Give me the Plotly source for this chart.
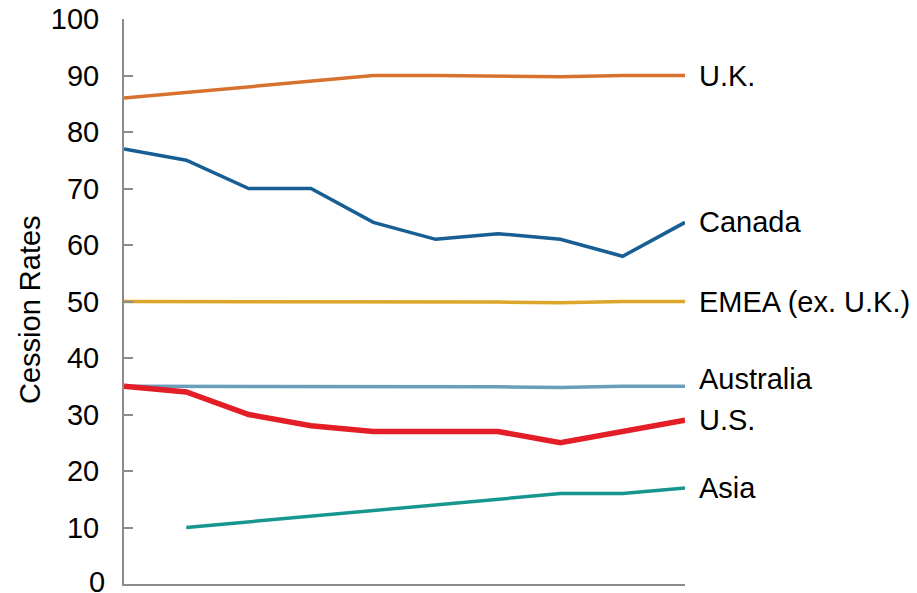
import plotly.graph_objects as go

# Cession rates by region over ten periods
periods = list(range(10))
series_names = ["U.K.", "Canada", "EMEA (ex. U.K.)", "Australia", "U.S.", "Asia"]
uk = [86, 87, 88, 89, 90, 90, 89.9, 89.8, 90, 90]
canada = [77, 75, 70, 70, 64, 61, 62, 61, 58, 64]
emea = [50, 50, 50, 50, 50, 50, 49.9, 49.8, 50, 50]
australia = [35, 35, 35, 35, 35, 34.9, 34.9, 34.8, 35, 35]
us = [35, 34, 30, 28, 27, 27, 27, 25, 27, 29]
asia = [None, 10, 11, 12, 13, 14, 15, 16, 16, 17]
y_ticks = [0, 10, 20, 30, 40, 50, 60, 70, 80, 90, 100]

values = [uk, canada, emea, australia, us, asia]
colors = ["#D9712E", "#175E94", "#DBA62A", "#6A9EBB", "#E31E26", "#17958F"]
widths = [3.5, 3.5, 3.5, 3.5, 5.5, 3.5]
label_shift = [0, 0, 0, 7, 0, 0]

FONT = "Liberation Sans, Arial, sans-serif"
TEXT = dict(family=FONT, size=29, color="#000000")

fig = go.Figure()
for name, ys, col, w in zip(series_names, values, colors, widths):
    fig.add_trace(go.Scatter(
        x=periods, y=ys, mode="lines", name=name,
        line=dict(color=col, width=w),
        connectgaps=False, showlegend=False, cliponaxis=False,
    ))

# End-of-line labels
for name, ys, dy in zip(series_names, values, label_shift):
    fig.add_annotation(
        x=periods[-1], y=ys[-1], xref="x", yref="y",
        text=name, showarrow=False, xanchor="left", yanchor="middle",
        xshift=12, yshift=dy, font=TEXT,
    )

# Vertical axis title
fig.add_annotation(
    x=0, y=0.485, xref="paper", yref="paper",
    text="Cession Rates", textangle=-90, showarrow=False,
    xanchor="center", yanchor="middle", xshift=-94, font=TEXT,
)

# The bottom tick label sits at the page edge, where plotly drops it; draw it here
fig.add_annotation(
    x=0, y=y_ticks[0], xref="paper", yref="y",
    text=str(y_ticks[0]), showarrow=False,
    xanchor="right", yanchor="middle", xshift=-17, yshift=2, font=TEXT,
)

fig.update_layout(
    width=917, height=593,
    margin=dict(l=124, r=232, t=19, b=9, autoexpand=False),
    paper_bgcolor="white", plot_bgcolor="white",
    font=dict(family=FONT, color="#000000"),
)
fig.update_xaxes(
    range=[0, 9], showgrid=False, zeroline=False, automargin=False,
    showticklabels=False, ticks="",
    showline=True, linecolor="#8C8C8C", linewidth=2,
)
fig.update_yaxes(
    range=[0, 100], tickvals=y_ticks,
    showgrid=False, zeroline=False,
    automargin=False,
    showline=True, linecolor="#8C8C8C", linewidth=2,
    ticks="inside", ticklen=9, tickwidth=2, tickcolor="#8C8C8C",
    ticklabelstandoff=17,
    tickfont=TEXT,
)

fig.write_html("out.html")
